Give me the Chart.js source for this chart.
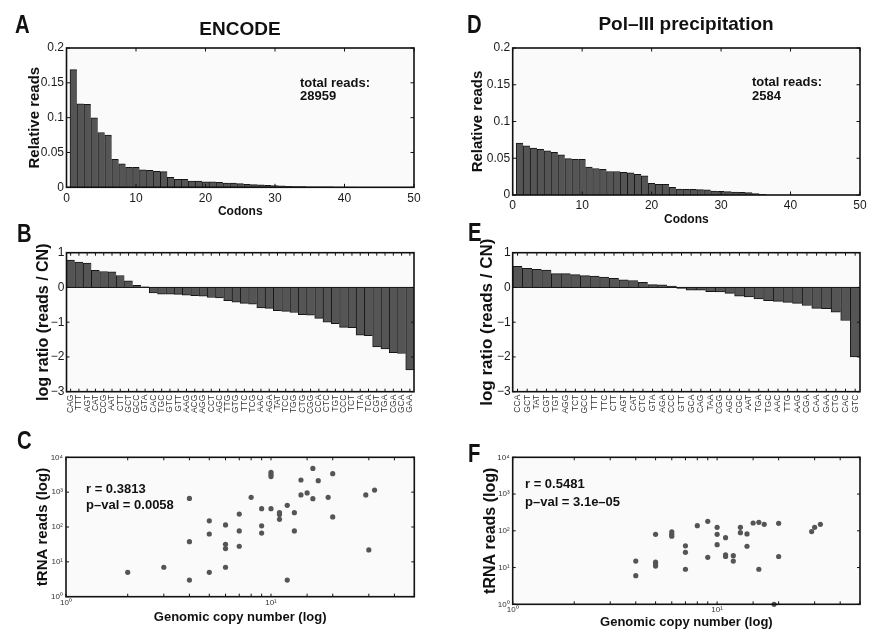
<!DOCTYPE html>
<html lang="en">
<head>
<meta charset="UTF-8">
<title>tRNA reads per codon: ENCODE vs Pol-III precipitation</title>
<script src="https://cdn.jsdelivr.net/npm/chart.js"></script>
<style>
  body { margin: 0; width: 872px; height: 639px; position: relative; overflow: hidden; background: #fff;
         font-family: 'Liberation Sans', Arial, Helvetica, sans-serif; color: #111; }
  canvas { position: absolute; }
  .lbl { position: absolute; z-index: 2; font-weight: bold; white-space: nowrap; line-height: 1; }
  .letter { font-size: 26px; transform: scaleX(0.78); transform-origin: 0 0; }
  .head { font-size: 19px; transform: translateX(-50%); }
  .note { font-size: 13px; }
</style>
</head>
<body>
<div class="lbl letter" style="left:15px;top:11px">A</div>
<div class="lbl letter" style="left:17px;top:220px">B</div>
<div class="lbl letter" style="left:17px;top:427px">C</div>
<div class="lbl letter" style="left:467px;top:11px">D</div>
<div class="lbl letter" style="left:468px;top:219px">E</div>
<div class="lbl letter" style="left:468px;top:440px">F</div>
<div class="lbl head" style="left:240px;top:19px">ENCODE</div>
<div class="lbl head" style="left:686px;top:14px">Pol–III precipitation</div>
<div class="lbl note" style="left:300px;top:76px;line-height:13px">total reads:<br>28959</div>
<div class="lbl note" style="left:752px;top:74.5px;line-height:14px">total reads:<br>2584</div>
<div class="lbl note" style="left:86px;top:481px;line-height:16px">r = 0.3813<br>p–val = 0.0058</div>
<div class="lbl note" style="left:525px;top:475px;line-height:17.7px">r = 0.5481<br>p–val = 3.1e–05</div>

<canvas id="chartA"></canvas>
<canvas id="chartB"></canvas>
<canvas id="chartC"></canvas>
<canvas id="chartD"></canvas>
<canvas id="chartE"></canvas>
<canvas id="chartF"></canvas>

<script>
// relative reads per codon, sorted (panel A / D)
const relReadsEncode = [0.169, 0.120, 0.119, 0.0998, 0.0787, 0.0748, 0.040, 0.0336, 0.0288, 0.0288,
  0.025, 0.0245, 0.023, 0.0225, 0.0144, 0.0115, 0.0115, 0.009, 0.009, 0.008,
  0.008, 0.0072, 0.0062, 0.006, 0.0053, 0.0043, 0.0038, 0.0034, 0.003, 0.0024,
  0.002, 0.0015, 0.0012, 0.001, 0.0008, 0.0007, 0.0006, 0.0005, 0.0004, 0.0003, 0.0002, 0.0001];
const relReadsPol3 = [0.0705, 0.067, 0.064, 0.062, 0.060, 0.058, 0.0545, 0.0495, 0.0486, 0.0486,
  0.038, 0.036, 0.035, 0.032, 0.032, 0.031, 0.030, 0.028, 0.026, 0.016,
  0.0145, 0.0145, 0.0105, 0.008, 0.0077, 0.0077, 0.0073, 0.007, 0.0055, 0.005,
  0.0045, 0.004, 0.0036, 0.0032, 0.002, 0.001];

// log ratio reads / copy number (panel B / E)
const codonsEncode = ['CAG','TTT','AGT','CAT','CCG','AAT','CTT','GCT','GCC','GTA','CAC','TGC','GTC','GTT',
  'AAG','ACG','AGG','CCT','AGC','TTG','GTG','TTC','TCG','AAC','AGA','TAT','TCC','TGG','CTG','CGG',
  'CCA','CTC','TGT','CCC','TCT','TTA','TCA','CGT','TGA','CGA','GCA','GAA'];
const ratioEncode = [0.79, 0.73, 0.70, 0.49, 0.46, 0.45, 0.345, 0.19, 0.06, 0.02, -0.16, -0.19, -0.19, -0.2,
  -0.22, -0.24, -0.25, -0.29, -0.3, -0.38, -0.42, -0.46, -0.48, -0.59, -0.6, -0.67, -0.69, -0.72, -0.78, -0.8,
  -0.89, -1.0, -1.04, -1.15, -1.16, -1.37, -1.39, -1.71, -1.77, -1.88, -1.9, -2.37];
const codonsPol3 = ['CCA','GCT','TAT','CGT','TGT','AGG','TCT','GCC','TTT','TTC','CTT','AGT','CAT','CTC',
  'GTA','AGA','CCC','GTT','GCA','CAG','TAA','CGG','AGC','CGC','AAT','TGA','TGC','AAC','TTG','AAG',
  'CGA','CAA','GAA','CTG','CAC','GTC'];
const ratioPol3 = [0.61, 0.55, 0.52, 0.50, 0.40, 0.40, 0.37, 0.34, 0.33, 0.30, 0.26, 0.22, 0.20, 0.15,
  0.08, 0.075, 0.04, -0.03, -0.075, -0.08, -0.12, -0.13, -0.17, -0.25, -0.27, -0.33, -0.38, -0.40, -0.43, -0.46,
  -0.52, -0.60, -0.61, -0.71, -0.95, -2.0];

// genomic copy number vs tRNA reads (panel C / F)
const copyEncode = [2, 3, 4, 4, 4, 5, 5, 5, 6, 6, 6, 6, 7, 7, 7, 8, 9, 9, 9, 10, 10, 10, 10, 11, 11, 11,
  12, 12, 13, 13, 14, 14, 15, 16, 16, 17, 19, 20, 20, 29, 30, 32];
const trnaEncode = [5, 7, 660, 38, 3, 150, 63, 5, 115, 32, 24, 7, 235, 77, 28, 710, 335, 108, 67, 3700, 3200, 2800, 335,
  260, 230, 166, 420, 3, 258, 77, 2230, 830, 950, 4800, 650, 2140, 710, 3400, 194, 830, 22, 1150];
const copyPol3 = [4, 4, 5, 5, 5, 5, 6, 6, 6, 7, 7, 7, 8, 9, 9, 10, 10, 10, 11, 11, 11, 12, 12, 13, 13, 14, 14,
  15, 16, 16, 17, 19, 20, 20, 29, 30, 32];
const trnaPol3 = [15, 6, 80, 14, 12.5, 11, 93, 80, 71, 39, 26, 9, 138, 181, 19, 124, 80, 42, 65, 22, 20, 21, 15,
  124, 89, 82, 38, 163, 170, 9, 150, 1, 160, 20, 95, 124, 150];

Chart.defaults.font.family = "'Liberation Sans', Arial, Helvetica, sans-serif";
Chart.defaults.color = '#1a1a1a';
Chart.defaults.animation = false;
Chart.defaults.plugins.legend.display = false;
Chart.defaults.plugins.tooltip.enabled = false;

const BAR_FILL = '#555555';
const BAR_EDGE = '#161616';
const SUP = ['⁰', '¹', '²', '³', '⁴'];
const NO_GRID = { display: false, drawTicks: false };

// matlab-ish axes: shaded box, inward ticks on all four sides
const matlabBox = {
  id: 'matlabBox',
  beforeDraw(chart) {
    const { ctx, chartArea: a } = chart;
    ctx.save();
    ctx.fillStyle = '#fafafa';
    ctx.fillRect(a.left, a.top, a.right - a.left, a.bottom - a.top);
    ctx.restore();
  },
  afterDatasetsDraw(chart, args, opts) {
    const { ctx, chartArea: a } = chart;
    const xs = chart.scales.x, ys = chart.scales.y;
    const L = opts.tick || 3.5;
    ctx.save();
    ctx.strokeStyle = '#111';
    ctx.lineWidth = 1;
    ctx.beginPath();
    xs.ticks.forEach((t, i) => {
      const p = xs.getPixelForTick(i);
      ctx.moveTo(p, a.bottom); ctx.lineTo(p, a.bottom - L);
      ctx.moveTo(p, a.top); ctx.lineTo(p, a.top + L);
    });
    ys.ticks.forEach((t, i) => {
      const p = ys.getPixelForTick(i);
      ctx.moveTo(a.left, p); ctx.lineTo(a.left + L, p);
      ctx.moveTo(a.right, p); ctx.lineTo(a.right - L, p);
    });
    if (opts.zero) {
      const p = ys.getPixelForValue(0);
      ctx.moveTo(a.left, p); ctx.lineTo(a.right, p);
    }
    ctx.stroke();
    ctx.lineWidth = 1.6;
    ctx.strokeRect(a.left, a.top, a.right - a.left, a.bottom - a.top);
    ctx.restore();
  }
};

// put the canvas so the plot box lands where the figure has it
function place(id, box) {
  const canvas = document.getElementById(id);
  const leftEdge = box.yTitleX - box.yFont * 0.6;
  const axisH = box.xTitleY ? box.xTitleY + box.xFont * 0.6 - box.b : box.axisH;
  const cl = Math.floor(leftEdge), ct = Math.floor(box.t - (box.topRoom || 10));
  const cr = Math.ceil(box.r + 10), cb = Math.ceil(box.b + axisH + 2);
  canvas.width = cr - cl;
  canvas.height = cb - ct;
  canvas.style.left = cl + 'px';
  canvas.style.top = ct + 'px';
  canvas.style.width = (cr - cl) + 'px';
  canvas.style.height = (cb - ct) + 'px';
  return {
    canvas,
    padding: { left: leftEdge - cl, top: box.t - ct, right: cr - box.r, bottom: cb - box.b - axisH },
    yW: box.l - leftEdge,
    xH: axisH
  };
}

function axisTitle(text, size) {
  return { display: true, text, padding: 0, font: { size, weight: 'bold', lineHeight: 1.2 }, color: '#111' };
}

function fixY(w) { return s => { s.width = w; s.paddingTop = 0; s.paddingBottom = 0; }; }
function fixX(h) { return s => { s.height = h; s.paddingLeft = 0; s.paddingRight = 0; }; }

function histPanel(id, box, values, xPad) {
  const p = place(id, box);
  new Chart(p.canvas, {
    type: 'bar',
    data: {
      datasets: [{
        data: values.map((v, i) => ({ x: i + 1, y: v })),
        backgroundColor: BAR_FILL, borderColor: BAR_EDGE,
        borderWidth: { top: 1, left: 1, right: 0, bottom: 0 },
        barPercentage: 1, categoryPercentage: 1
      }]
    },
    options: {
      responsive: false,
      layout: { padding: p.padding },
      scales: {
        x: {
          type: 'linear', min: 0, max: 50, offset: false,
          grid: { ...NO_GRID, offset: false }, border: { display: false },
          ticks: { stepSize: 10, padding: xPad, font: { size: 12 } },
          title: axisTitle('Codons', box.xFont),
          afterFit: fixX(p.xH)
        },
        y: {
          min: 0, max: 0.2,
          grid: NO_GRID, border: { display: false },
          ticks: { stepSize: 0.05, padding: 2.5, font: { size: 12 }, callback: v => String(+v.toFixed(2)) },
          title: axisTitle('Relative reads', box.yFont),
          afterFit: fixY(p.yW)
        }
      },
      plugins: { matlabBox: { tick: 3.5 } }
    },
    plugins: [matlabBox]
  });
}

function ratioPanel(id, box, codons, values) {
  const p = place(id, box);
  new Chart(p.canvas, {
    type: 'bar',
    data: {
      labels: codons,
      datasets: [{
        data: values,
        backgroundColor: BAR_FILL, borderColor: BAR_EDGE,
        borderWidth: { top: 1, bottom: 1, left: 1, right: 0 },
        barPercentage: 1, categoryPercentage: 1
      }]
    },
    options: {
      responsive: false,
      layout: { padding: p.padding },
      scales: {
        x: {
          grid: NO_GRID, border: { display: false },
          ticks: { autoSkip: false, minRotation: 90, maxRotation: 90, padding: 3, color: '#333', font: { size: 8.5 } },
          afterFit: fixX(p.xH)
        },
        y: {
          min: -3, max: 1,
          grid: NO_GRID, border: { display: false },
          ticks: { stepSize: 1, padding: 2, font: { size: 12 }, callback: v => (v < 0 ? '−' + Math.abs(v) : String(v)) },
          title: axisTitle('log ratio (reads / CN)', box.yFont),
          afterFit: fixY(p.yW)
        }
      },
      plugins: { matlabBox: { tick: 3, zero: true } }
    },
    plugins: [matlabBox]
  });
}

function scatterPanel(id, box, xs, ys) {
  const p = place(id, box);
  new Chart(p.canvas, {
    type: 'scatter',
    data: {
      datasets: [{
        data: xs.map((x, i) => ({ x, y: ys[i] })),
        backgroundColor: '#555', borderWidth: 0, pointRadius: 2.6, clip: false
      }]
    },
    options: {
      responsive: false,
      layout: { padding: p.padding },
      scales: {
        x: {
          type: 'logarithmic', min: 1, max: 50,
          grid: NO_GRID, border: { display: false },
          ticks: { autoSkip: false, maxRotation: 0, padding: 1, color: '#333', font: { size: 8 },
                   callback: v => (v === 1 ? '10' + SUP[0] : v === 10 ? '10' + SUP[1] : '') },
          title: axisTitle('Genomic copy number (log)', box.xFont),
          afterFit: fixX(p.xH)
        },
        y: {
          type: 'logarithmic', min: 1, max: 10000,
          grid: NO_GRID, border: { display: false },
          afterBuildTicks: s => { s.ticks = s.ticks.filter(t => Number.isInteger(Math.round(Math.log10(t.value) * 1e6) / 1e6)); },
          ticks: { autoSkip: false, padding: 3, color: '#333', font: { size: 8 },
                   callback: v => '10' + SUP[Math.round(Math.log10(v))] },
          title: axisTitle('tRNA reads (log)', box.yFont),
          afterFit: fixY(p.yW)
        }
      },
      plugins: { matlabBox: { tick: 3 } }
    },
    plugins: [matlabBox]
  });
}

histPanel('chartA', { l: 66.5, t: 48, r: 414, b: 187.3, yTitleX: 35, yFont: 15, xTitleY: 212, xFont: 12 }, relReadsEncode, 4.5);
histPanel('chartD', { l: 512.7, t: 48, r: 860, b: 195, yTitleX: 478, yFont: 15, xTitleY: 220, xFont: 12 }, relReadsPol3, 3.8);
ratioPanel('chartB', { l: 66.5, t: 252.7, r: 414, b: 391.7, yTitleX: 44, yFont: 16, axisH: 32, topRoom: 20 }, codonsEncode, ratioEncode);
ratioPanel('chartE', { l: 512.7, t: 252.7, r: 860, b: 391.7, yTitleX: 487, yFont: 17, axisH: 32, topRoom: 20 }, codonsPol3, ratioPol3);
scatterPanel('chartC', { l: 66, t: 457.3, r: 414.3, b: 596.7, yTitleX: 43, yFont: 15, xTitleY: 617, xFont: 13 }, copyEncode, trnaEncode);
scatterPanel('chartF', { l: 512.7, t: 457.3, r: 860, b: 604.3, yTitleX: 491, yFont: 16, xTitleY: 622, xFont: 13 }, copyPol3, trnaPol3);
</script>
</body>
</html>
